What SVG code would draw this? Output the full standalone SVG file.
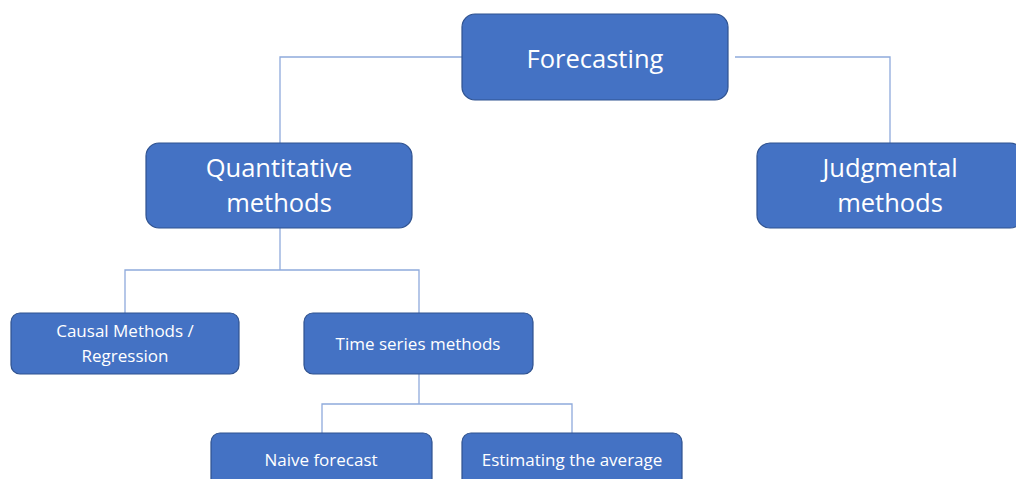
<svg xmlns="http://www.w3.org/2000/svg" width="1016" height="479" viewBox="0 0 1016 479">
<style>
.box{fill:#4472C4;stroke:#2F528F;stroke-width:1.2}
.t{fill:#ffffff;font-family:"Open Sans","Liberation Sans",sans-serif;text-anchor:middle}
.big{font-size:25.5px}
.small{font-size:17px}
.c{fill:none;stroke:#8FAADC;stroke-width:1.3}
</style>
<rect width="1016" height="479" fill="#ffffff"/>
<g id="connectors">
<path class="c" d="M462 57 H280 V143"/>
<path class="c" d="M735 57 H890 V143"/>
<path class="c" d="M280 228 V270"/>
<path class="c" d="M125 313 V270 H419 V313"/>
<path class="c" d="M419 374 V404"/>
<path class="c" d="M322 433 V404 H572 V433"/>
</g>
<g id="forecasting">
<rect class="box" x="462" y="14" width="266" height="86" rx="13"/>
<text class="t big" x="595" y="68">Forecasting</text>
</g>
<g id="quantitative">
<rect class="box" x="146" y="143" width="266" height="85" rx="13"/>
<text class="t big" x="279" y="177">Quantitative</text>
<text class="t big" x="279" y="212">methods</text>
</g>
<g id="judgmental">
<rect class="box" x="757" y="143" width="266" height="85" rx="13"/>
<text class="t big" x="890" y="177">Judgmental</text>
<text class="t big" x="890" y="212">methods</text>
</g>
<g id="causal">
<rect class="box" x="11" y="313" width="228" height="61" rx="9"/>
<text class="t small" x="125" y="337">Causal Methods /</text>
<text class="t small" x="125" y="362">Regression</text>
</g>
<g id="timeseries">
<rect class="box" x="304" y="313" width="229" height="61" rx="9"/>
<text class="t small" x="418" y="350">Time series methods</text>
</g>
<g id="naive">
<rect class="box" x="211" y="433" width="221" height="61" rx="9"/>
<text class="t small" x="321" y="466">Naive forecast</text>
</g>
<g id="average">
<rect class="box" x="462" y="433" width="220" height="61" rx="9"/>
<text class="t small" x="572" y="466">Estimating the average</text>
</g>
</svg>
